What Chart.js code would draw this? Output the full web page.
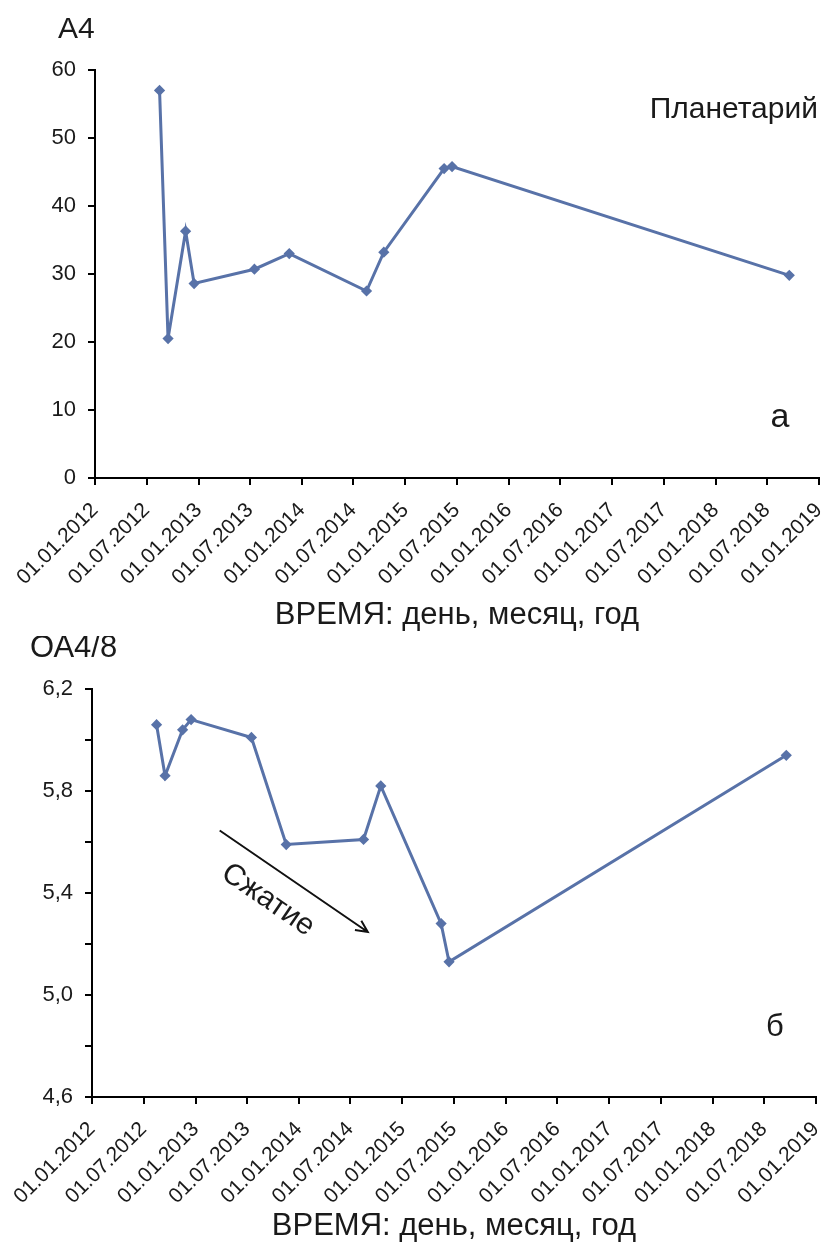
<!DOCTYPE html>
<html>
<head>
<meta charset="utf-8">
<script src="https://cdn.jsdelivr.net/npm/chart.js@4.4.0/dist/chart.umd.min.js"></script>
<style>
  body { margin: 0; background: #fff; }
  #wrap { position: relative; width: 829px; height: 1247px; }
  .box { position: absolute; left: 0; width: 829px; }
</style>
</head>
<body>
<div id="wrap">
  <div class="box" style="top:0;height:636px"><canvas id="chartA"></canvas></div>
  <div class="box" style="top:636px;height:611px"><canvas id="chartB"></canvas></div>
</div>
<script>
// Daten: Messdaten (Datum der Messung)
const dates = ['2012-08-16', '2012-09-15', '2012-11-16', '2012-12-16', '2013-07-17', '2013-11-17',
               '2014-08-17', '2014-10-17', '2015-05-18', '2015-06-15', '2018-09-18'];
const a4Values = [57.0, 20.5, 36.3, 28.6, 30.7, 33.0, 27.5, 33.2, 45.5, 45.8, 29.8];
const oa48Values = [6.06, 5.86, 6.04, 6.08, 6.01, 5.59, 5.61, 5.82, 5.28, 5.13, 5.94];
const tickLabels = ['01.01.2012', '01.07.2012', '01.01.2013', '01.07.2013', '01.01.2014',
                    '01.07.2014', '01.01.2015', '01.07.2015', '01.01.2016', '01.07.2016',
                    '01.01.2017', '01.07.2017', '01.01.2018', '01.07.2018', '01.01.2019'];
const xTitle = 'ВРЕМЯ: день, месяц, год';

const lineColor = '#5872a8';
const textColor = '#1a1a1a';
const fontFamily = '"Liberation Sans", Arial, sans-serif';

function toMs(s) { return Date.parse(s + 'T00:00:00Z'); }
function labelToMs(l) { const p = l.split('.'); return toMs(p[2] + '-' + p[1] + '-' + p[0]); }
const tickMs = tickLabels.map(labelToMs);

// Beschriftungen im Diagramm
const notesPlugin = {
    id: 'notes',
    afterDraw(chart, args, opts) {
        const ctx = chart.ctx;
        ctx.save();
        ctx.fillStyle = textColor;
        ctx.textBaseline = 'alphabetic';
        for (const n of opts.texts || []) {
            ctx.font = n.size + 'px ' + fontFamily;
            ctx.textAlign = n.align || 'left';
            ctx.fillText(n.text, n.x, n.y);
        }
        if (opts.arrow) {
            const a = opts.arrow;
            const sx = chart.scales.x, sy = chart.scales.y;
            const x1 = sx.getPixelForValue(toMs(a.from[0])), y1 = sy.getPixelForValue(a.from[1]);
            const x2 = sx.getPixelForValue(toMs(a.to[0])), y2 = sy.getPixelForValue(a.to[1]);
            const ang = Math.atan2(y2 - y1, x2 - x1);
            ctx.strokeStyle = '#111';
            ctx.lineWidth = 2;
            ctx.beginPath();
            ctx.moveTo(x1, y1);
            ctx.lineTo(x2, y2);
            ctx.moveTo(x2 - 13 * Math.cos(ang - 0.45), y2 - 13 * Math.sin(ang - 0.45));
            ctx.lineTo(x2, y2);
            ctx.lineTo(x2 - 13 * Math.cos(ang + 0.45), y2 - 13 * Math.sin(ang + 0.45));
            ctx.stroke();
            // Text unter dem Pfeil
            const len = Math.hypot(x2 - x1, y2 - y1);
            const along = len * 0.44, perp = 30;
            const cx = x1 + along * Math.cos(ang) - perp * Math.sin(ang);
            const cy = y1 + along * Math.sin(ang) + perp * Math.cos(ang);
            ctx.translate(cx, cy);
            ctx.rotate(ang);
            ctx.font = '30px ' + fontFamily;
            ctx.textAlign = 'center';
            ctx.textBaseline = 'middle';
            ctx.fillText(a.text, 0, 0);
        }
        ctx.restore();
    }
};

function makeConfig(values, yMin, yMax, step, yFmt, yWidth, xHeight, pad, notes) {
    return {
        type: 'line',
        data: {
            datasets: [{
                data: dates.map((d, i) => ({ x: toMs(d), y: values[i] })),
                borderColor: lineColor,
                backgroundColor: lineColor,
                borderWidth: 3,
                pointStyle: 'rectRot',
                pointRadius: 3.5,
                tension: 0
            }]
        },
        options: {
            responsive: true,
            maintainAspectRatio: false,
            animation: false,
            layout: { padding: pad },
            plugins: {
                legend: { display: false },
                tooltip: { enabled: false },
                notes: notes
            },
            scales: {
                x: {
                    type: 'linear',
                    min: tickMs[0],
                    max: tickMs[tickMs.length - 1],
                    afterBuildTicks: s => { s.ticks = tickMs.map(v => ({ value: v })); },
                    afterFit: s => { s.height = xHeight; s.paddingLeft = 0; s.paddingRight = 0; },
                    ticks: {
                        autoSkip: false,
                        minRotation: 45,
                        maxRotation: 45,
                        padding: 13,
                        color: textColor,
                        font: { family: fontFamily, size: 21 },
                        callback: (v, i) => tickLabels[i]
                    },
                    grid: { drawOnChartArea: false, drawTicks: true, tickLength: 7, color: '#000', lineWidth: 2 },
                    border: { color: '#000', width: 2 },
                    title: {
                        display: true,
                        text: xTitle,
                        color: textColor,
                        font: { family: fontFamily, size: 31 },
                        padding: { top: 0, bottom: 2 }
                    }
                },
                y: {
                    min: yMin,
                    max: yMax,
                    afterFit: s => { s.width = yWidth; },
                    ticks: {
                        stepSize: step,
                        padding: 12,
                        color: textColor,
                        font: { family: fontFamily, size: 22 },
                        callback: yFmt
                    },
                    grid: { drawOnChartArea: false, drawTicks: true, tickLength: 7, color: '#000', lineWidth: 2 },
                    border: { color: '#000', width: 2 }
                }
            }
        },
        plugins: [notesPlugin]
    };
}

new Chart(document.getElementById('chartA'), makeConfig(
    a4Values, 0, 60, 10, v => String(v), 95, 158,
    { top: 70, right: 10, bottom: 0, left: 0 },
    {
        texts: [
            { text: 'A4', x: 58, y: 38, size: 30 },
            { text: 'Планетарий', x: 818, y: 118, size: 30, align: 'right' },
            { text: 'а', x: 780, y: 427, size: 34, align: 'center' }
        ]
    }
));

new Chart(document.getElementById('chartB'), makeConfig(
    oa48Values, 4.6, 6.2, 0.2,
    v => (Math.round((v - 4.6) / 0.2) % 2 === 0 ? v.toFixed(1).replace('.', ',') : ''),
    92, 150,
    { top: 53, right: 13, bottom: 0, left: 0 },
    {
        texts: [
            { text: 'ОА4/8', x: 30, y: 21, size: 31 },
            { text: 'б', x: 775, y: 400, size: 31, align: 'center' }
        ],
        arrow: { from: ['2013-03-27', 5.645], to: ['2014-09-01', 5.247], text: 'Сжатие' }
    }
));
</script>
</body>
</html>
